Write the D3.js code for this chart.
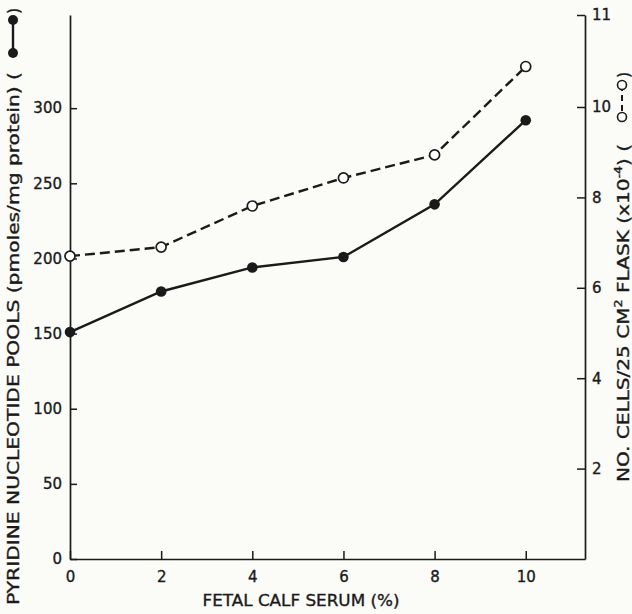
<!DOCTYPE html>
<html><head><meta charset="utf-8">
<script src="https://cdn.jsdelivr.net/npm/d3@7/dist/d3.min.js"></script>
<style>
html,body{margin:0;padding:0;background:#fbfbf8;}
svg{display:block;}
text{font-family:"DejaVu Sans",sans-serif;fill:#1a1a1a;stroke:#1a1a1a;stroke-width:0.35px;}
</style></head>
<body>
<svg id="c" width="632" height="614"></svg>
<script>
// Data
const serum = [0, 2, 4, 6, 8, 10];
const pools = [151, 178, 194, 201, 236, 292];
const cells = [6.70, 6.90, 7.81, 8.43, 8.94, 10.44];
const xTicks = [0, 2, 4, 6, 8, 10];
const leftTicks = [0, 50, 100, 150, 200, 250, 300];
const rightTicks = [2, 4, 6, 8, 10, 11];

const svg = d3.select("#c");
const ink = "#1a1a1a";

const x = d3.scaleLinear().domain([0, 11.3]).range([70, 585]);
const yL = d3.scaleLinear().domain([0, 362]).range([559, 15]);
const yR = d3.scaleLinear().domain([0, 10, 11]).range([559, 107, 15]);

// Axes
const gx = svg.append("g").attr("transform", `translate(0,${yL(0)})`)
  .call(d3.axisBottom(x).tickValues(xTicks).tickSizeInner(-8).tickSizeOuter(0).tickPadding(10));
const gl = svg.append("g").attr("transform", `translate(${x(0)},0)`)
  .call(d3.axisLeft(yL).tickValues(leftTicks).tickSizeInner(-7).tickSizeOuter(0).tickPadding(9));
const gr = svg.append("g").attr("transform", `translate(${x(11.3)},0)`)
  .call(d3.axisRight(yR).tickValues(rightTicks).tickSizeInner(-8).tickSizeOuter(0).tickPadding(7));

[gx, gl, gr].forEach(g => {
  g.select(".domain").attr("stroke", ink).attr("stroke-width", 1.7);
  g.selectAll(".tick line").attr("stroke", ink).attr("stroke-width", 1.5);
  g.selectAll(".tick text").attr("font-size", 15).attr("fill", ink)
    .attr("stroke", ink).attr("stroke-width", 0.4)
    .attr("font-family", '"DejaVu Sans",sans-serif');
});
gx.selectAll(".tick text").attr("dy", "0.85em");
gl.selectAll(".tick text").attr("dx", "1");

// Lines
const lineL = d3.line().x((d, i) => x(serum[i])).y(d => yL(d));
const lineR = d3.line().x((d, i) => x(serum[i])).y(d => yR(d));

svg.append("path").datum(cells).attr("d", lineR)
  .attr("fill", "none").attr("stroke", ink).attr("stroke-width", 2.4)
  .attr("stroke-dasharray", "10,5");
svg.append("path").datum(pools).attr("d", lineL)
  .attr("fill", "none").attr("stroke", ink).attr("stroke-width", 2.4);

svg.selectAll(".po").data(cells).enter().append("circle")
  .attr("cx", (d, i) => x(serum[i])).attr("cy", d => yR(d)).attr("r", 5)
  .attr("fill", "#fff").attr("stroke", ink).attr("stroke-width", 1.7);
svg.selectAll(".pf").data(pools).enter().append("circle")
  .attr("cx", (d, i) => x(serum[i])).attr("cy", d => yL(d)).attr("r", 5.3)
  .attr("fill", ink);

// X title
svg.append("text").attr("x", 301).attr("y", 606).attr("text-anchor", "middle")
  .attr("font-size", 16).attr("textLength", 197).attr("lengthAdjust", "spacingAndGlyphs")
  .text("FETAL CALF SERUM (%)");

// Left title (rotated)
const lt = svg.append("g").attr("transform", "translate(19,0) rotate(-90)");
lt.append("text").attr("x", -605).attr("y", 0).attr("font-size", 16)
  .attr("textLength", 533).attr("lengthAdjust", "spacingAndGlyphs")
  .text("PYRIDINE NUCLEOTIDE POOLS (pmoles/mg protein) (");
lt.append("text").attr("x", -14).attr("y", 0).attr("font-size", 16).text(")");
// Left legend symbol
svg.append("line").attr("x1", 13).attr("x2", 13).attr("y1", 20).attr("y2", 53)
  .attr("stroke", ink).attr("stroke-width", 2.4);
svg.append("circle").attr("cx", 13).attr("cy", 20).attr("r", 5).attr("fill", ink);
svg.append("circle").attr("cx", 13).attr("cy", 53).attr("r", 5).attr("fill", ink);

// Right title (rotated)
const rt = svg.append("g").attr("transform", "translate(629,0) rotate(-90)");
const rtext = rt.append("text").attr("x", -482).attr("y", 0).attr("font-size", 16)
  .attr("textLength", 338).attr("lengthAdjust", "spacingAndGlyphs");
rtext.append("tspan").text("NO. CELLS/25 CM");
rtext.append("tspan").attr("font-size", 10).attr("dy", -7).text("2");
rtext.append("tspan").attr("dy", 7).text(" FLASK (x10");
rtext.append("tspan").attr("font-size", 10).attr("dy", -7).text("-4");
rtext.append("tspan").attr("dy", 7).text(") (");
rt.append("text").attr("x", -78).attr("y", 0).attr("font-size", 16).text(")");
// Right legend symbol
svg.append("line").attr("x1", 622).attr("x2", 622).attr("y1", 85).attr("y2", 117)
  .attr("stroke", ink).attr("stroke-width", 2).attr("stroke-dasharray", "6,4");
svg.append("circle").attr("cx", 622).attr("cy", 85).attr("r", 4.5)
  .attr("fill", "#fff").attr("stroke", ink).attr("stroke-width", 1.6);
svg.append("circle").attr("cx", 622).attr("cy", 117).attr("r", 4.5)
  .attr("fill", "#fff").attr("stroke", ink).attr("stroke-width", 1.6);
</script>
</body></html>
